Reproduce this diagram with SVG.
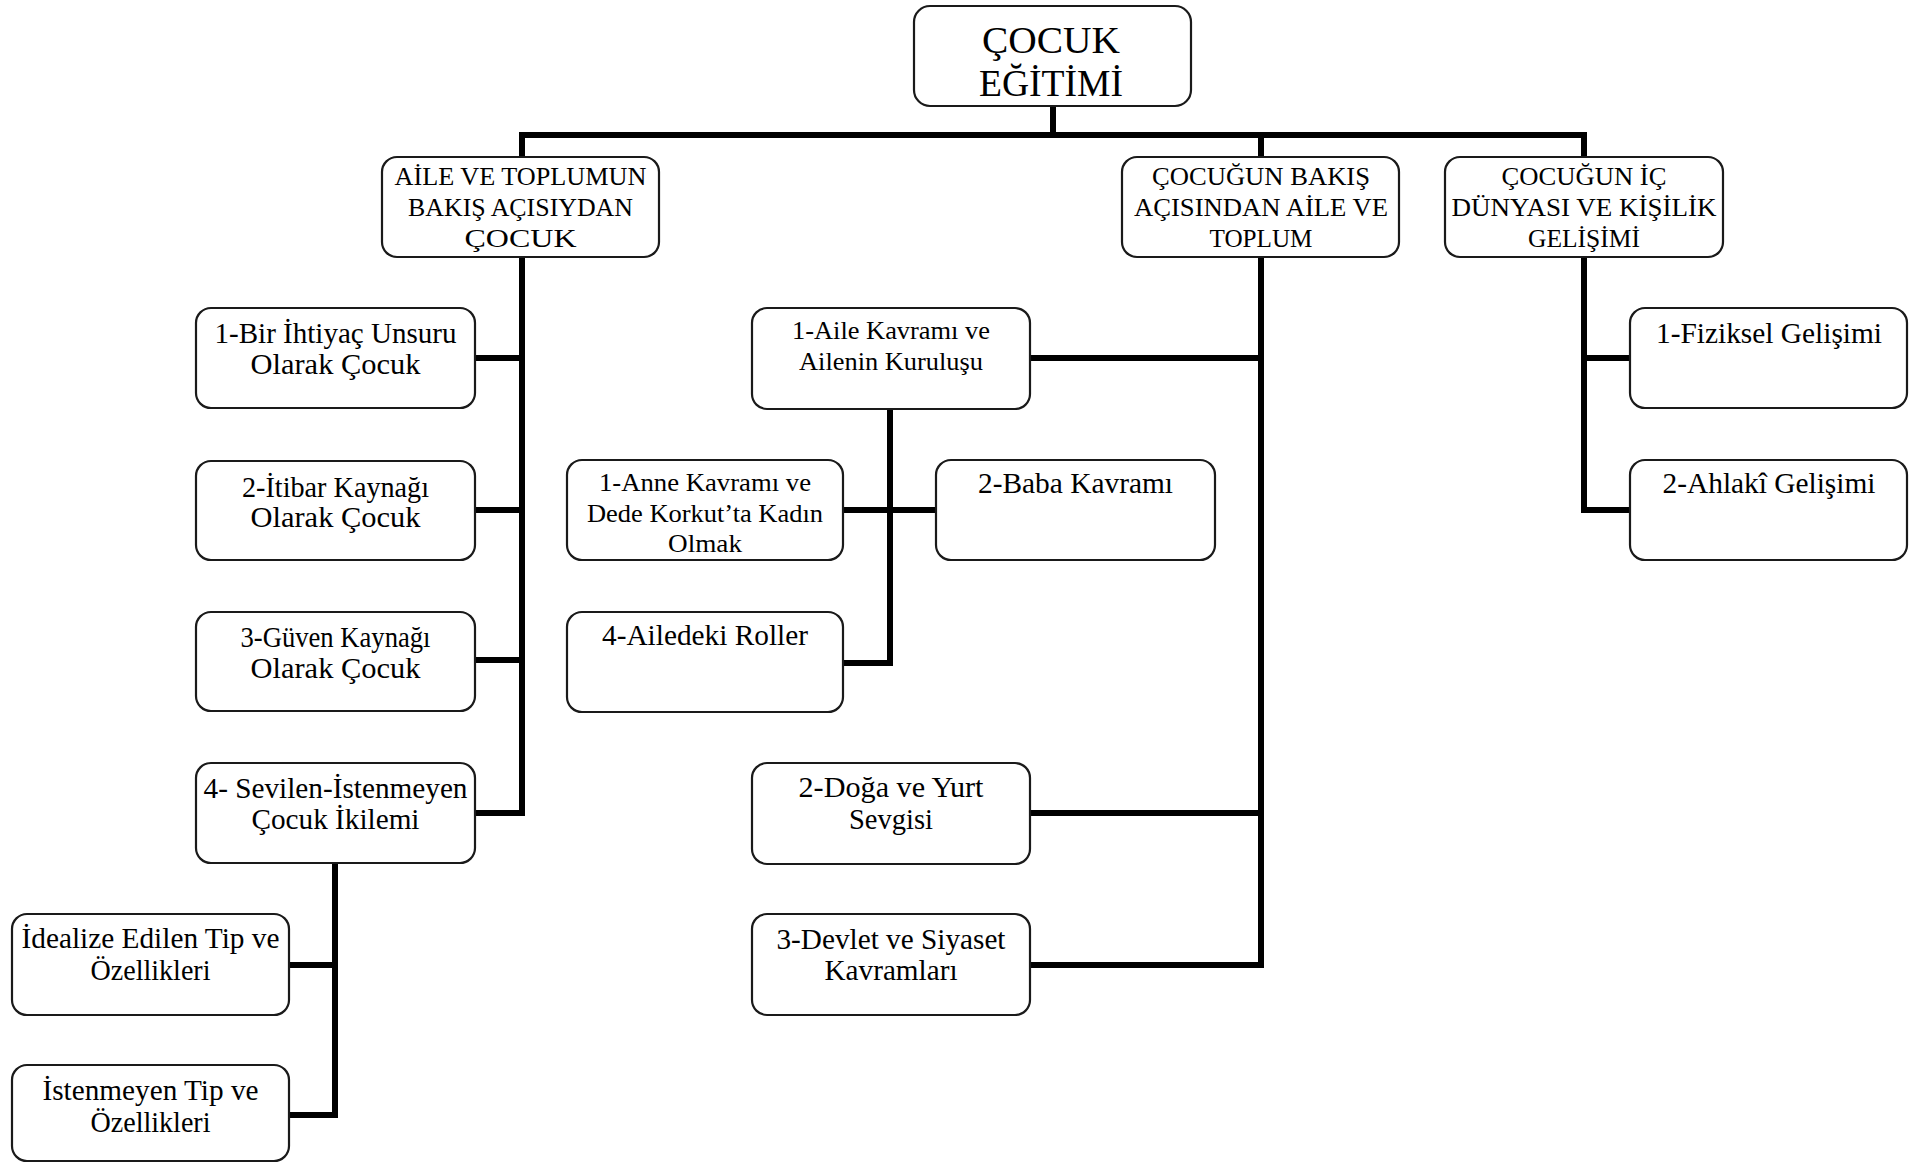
<svg xmlns="http://www.w3.org/2000/svg" width="1910" height="1163" viewBox="0 0 1910 1163">
<style>
.box{fill:#fff;stroke:#1a1a1a;stroke-width:2.2}
.t{font-family:"Liberation Serif","Times New Roman",serif;fill:#000;text-anchor:middle}
.root{font-size:38px}
.l1{font-size:25px}
.l2{font-size:29px}
.l2s{font-size:26px}
.conn{fill:none;stroke:#000;stroke-width:6;stroke-linejoin:miter;stroke-linecap:square}
</style>
<rect width="1910" height="1163" fill="#fff"/>
<g id="connectors">
<path class="conn" d="M1053,106 V135"/>
<path class="conn" d="M522,157 V135 H1584 V157"/>
<path class="conn" d="M1261,135 V157"/>
<path class="conn" d="M475,813 H522 V257"/>
<path class="conn" d="M475,358 H522"/>
<path class="conn" d="M475,510 H522"/>
<path class="conn" d="M475,660 H522"/>
<path class="conn" d="M335,863 V1115 H289"/>
<path class="conn" d="M289,965 H335"/>
<path class="conn" d="M1030,965 H1261 V257"/>
<path class="conn" d="M1030,358 H1261"/>
<path class="conn" d="M1030,813 H1261"/>
<path class="conn" d="M890,409 V663 H843"/>
<path class="conn" d="M843,510 H936"/>
<path class="conn" d="M1584,257 V510 H1630"/>
<path class="conn" d="M1630,358 H1584"/>
</g>
<g id="root">
<rect class="box" x="914" y="6" width="277" height="100" rx="16"/>
<text class="t root" x="1051" y="53" textLength="138" lengthAdjust="spacingAndGlyphs">ÇOCUK</text>
<text class="t root" x="1051" y="96" textLength="144" lengthAdjust="spacingAndGlyphs">EĞİTİMİ</text>
</g>
<g id="n-aile-toplum">
<rect class="box" x="382" y="157" width="277" height="100" rx="15"/>
<text class="t l1" x="520.5" y="185" textLength="252" lengthAdjust="spacingAndGlyphs">AİLE VE TOPLUMUN</text>
<text class="t l1" x="520.5" y="216" textLength="225" lengthAdjust="spacingAndGlyphs">BAKIŞ AÇISIYDAN</text>
<text class="t l1" x="520.5" y="247" textLength="112" lengthAdjust="spacingAndGlyphs">ÇOCUK</text>
</g>
<g id="n-cocugun-bakis">
<rect class="box" x="1122" y="157" width="277" height="100" rx="15"/>
<text class="t l1" x="1261" y="185" textLength="218" lengthAdjust="spacingAndGlyphs">ÇOCUĞUN BAKIŞ</text>
<text class="t l1" x="1261" y="216" textLength="254" lengthAdjust="spacingAndGlyphs">AÇISINDAN AİLE VE</text>
<text class="t l1" x="1261" y="247" textLength="103" lengthAdjust="spacingAndGlyphs">TOPLUM</text>
</g>
<g id="n-ic-dunya">
<rect class="box" x="1445" y="157" width="278" height="100" rx="15"/>
<text class="t l1" x="1584" y="185" textLength="165" lengthAdjust="spacingAndGlyphs">ÇOCUĞUN İÇ</text>
<text class="t l1" x="1584" y="216" textLength="265" lengthAdjust="spacingAndGlyphs">DÜNYASI VE KİŞİLİK</text>
<text class="t l1" x="1584" y="247" textLength="112" lengthAdjust="spacingAndGlyphs">GELİŞİMİ</text>
</g>
<g id="n-ihtiyac">
<rect class="box" x="196" y="308" width="279" height="100" rx="15"/>
<text class="t l2" x="335.5" y="343" textLength="242" lengthAdjust="spacingAndGlyphs">1-Bir İhtiyaç Unsuru</text>
<text class="t l2" x="335.5" y="374" textLength="170" lengthAdjust="spacingAndGlyphs">Olarak Çocuk</text>
</g>
<g id="n-itibar">
<rect class="box" x="196" y="461" width="279" height="99" rx="15"/>
<text class="t l2" x="335.5" y="497" textLength="187" lengthAdjust="spacingAndGlyphs">2-İtibar Kaynağı</text>
<text class="t l2" x="335.5" y="527" textLength="170" lengthAdjust="spacingAndGlyphs">Olarak Çocuk</text>
</g>
<g id="n-guven">
<rect class="box" x="196" y="612" width="279" height="99" rx="15"/>
<text class="t l2" x="335.5" y="647" textLength="190" lengthAdjust="spacingAndGlyphs">3-Güven Kaynağı</text>
<text class="t l2" x="335.5" y="678" textLength="170" lengthAdjust="spacingAndGlyphs">Olarak Çocuk</text>
</g>
<g id="n-sevilen">
<rect class="box" x="196" y="763" width="279" height="100" rx="15"/>
<text class="t l2" x="335.5" y="798" textLength="264" lengthAdjust="spacingAndGlyphs">4- Sevilen-İstenmeyen</text>
<text class="t l2" x="335.5" y="829" textLength="168" lengthAdjust="spacingAndGlyphs">Çocuk İkilemi</text>
</g>
<g id="n-idealize">
<rect class="box" x="12" y="914" width="277" height="101" rx="15"/>
<text class="t l2" x="150.5" y="948" textLength="258" lengthAdjust="spacingAndGlyphs">İdealize Edilen Tip ve</text>
<text class="t l2" x="150.5" y="980" textLength="120" lengthAdjust="spacingAndGlyphs">Özellikleri</text>
</g>
<g id="n-istenmeyen">
<rect class="box" x="12" y="1065" width="277" height="96" rx="15"/>
<text class="t l2" x="150.5" y="1100" textLength="216" lengthAdjust="spacingAndGlyphs">İstenmeyen Tip ve</text>
<text class="t l2" x="150.5" y="1132" textLength="120" lengthAdjust="spacingAndGlyphs">Özellikleri</text>
</g>
<g id="n-aile-kavrami">
<rect class="box" x="752" y="308" width="278" height="101" rx="15"/>
<text class="t l2s" x="891" y="339" textLength="198" lengthAdjust="spacingAndGlyphs">1-Aile Kavramı ve</text>
<text class="t l2s" x="891" y="370" textLength="184" lengthAdjust="spacingAndGlyphs">Ailenin Kuruluşu</text>
</g>
<g id="n-anne">
<rect class="box" x="567" y="460" width="276" height="100" rx="15"/>
<text class="t l2s" x="705" y="491" textLength="212" lengthAdjust="spacingAndGlyphs">1-Anne Kavramı ve</text>
<text class="t l2s" x="705" y="522" textLength="236" lengthAdjust="spacingAndGlyphs">Dede Korkut’ta Kadın</text>
<text class="t l2s" x="705" y="552" textLength="74" lengthAdjust="spacingAndGlyphs">Olmak</text>
</g>
<g id="n-baba">
<rect class="box" x="936" y="460" width="279" height="100" rx="15"/>
<text class="t l2" x="1075.5" y="493" textLength="195" lengthAdjust="spacingAndGlyphs">2-Baba Kavramı</text>
</g>
<g id="n-roller">
<rect class="box" x="567" y="612" width="276" height="100" rx="15"/>
<text class="t l2" x="705" y="645" textLength="206" lengthAdjust="spacingAndGlyphs">4-Ailedeki Roller</text>
</g>
<g id="n-doga">
<rect class="box" x="752" y="763" width="278" height="101" rx="15"/>
<text class="t l2" x="891" y="797" textLength="185" lengthAdjust="spacingAndGlyphs">2-Doğa ve Yurt</text>
<text class="t l2" x="891" y="829" textLength="84" lengthAdjust="spacingAndGlyphs">Sevgisi</text>
</g>
<g id="n-devlet">
<rect class="box" x="752" y="914" width="278" height="101" rx="15"/>
<text class="t l2" x="891" y="949" textLength="229" lengthAdjust="spacingAndGlyphs">3-Devlet ve Siyaset</text>
<text class="t l2" x="891" y="980" textLength="133" lengthAdjust="spacingAndGlyphs">Kavramları</text>
</g>
<g id="n-fiziksel">
<rect class="box" x="1630" y="308" width="277" height="100" rx="15"/>
<text class="t l2" x="1769" y="343" textLength="226" lengthAdjust="spacingAndGlyphs">1-Fiziksel Gelişimi</text>
</g>
<g id="n-ahlaki">
<rect class="box" x="1630" y="460" width="277" height="100" rx="15"/>
<text class="t l2" x="1769" y="493" textLength="213" lengthAdjust="spacingAndGlyphs">2-Ahlakî Gelişimi</text>
</g>
</svg>
